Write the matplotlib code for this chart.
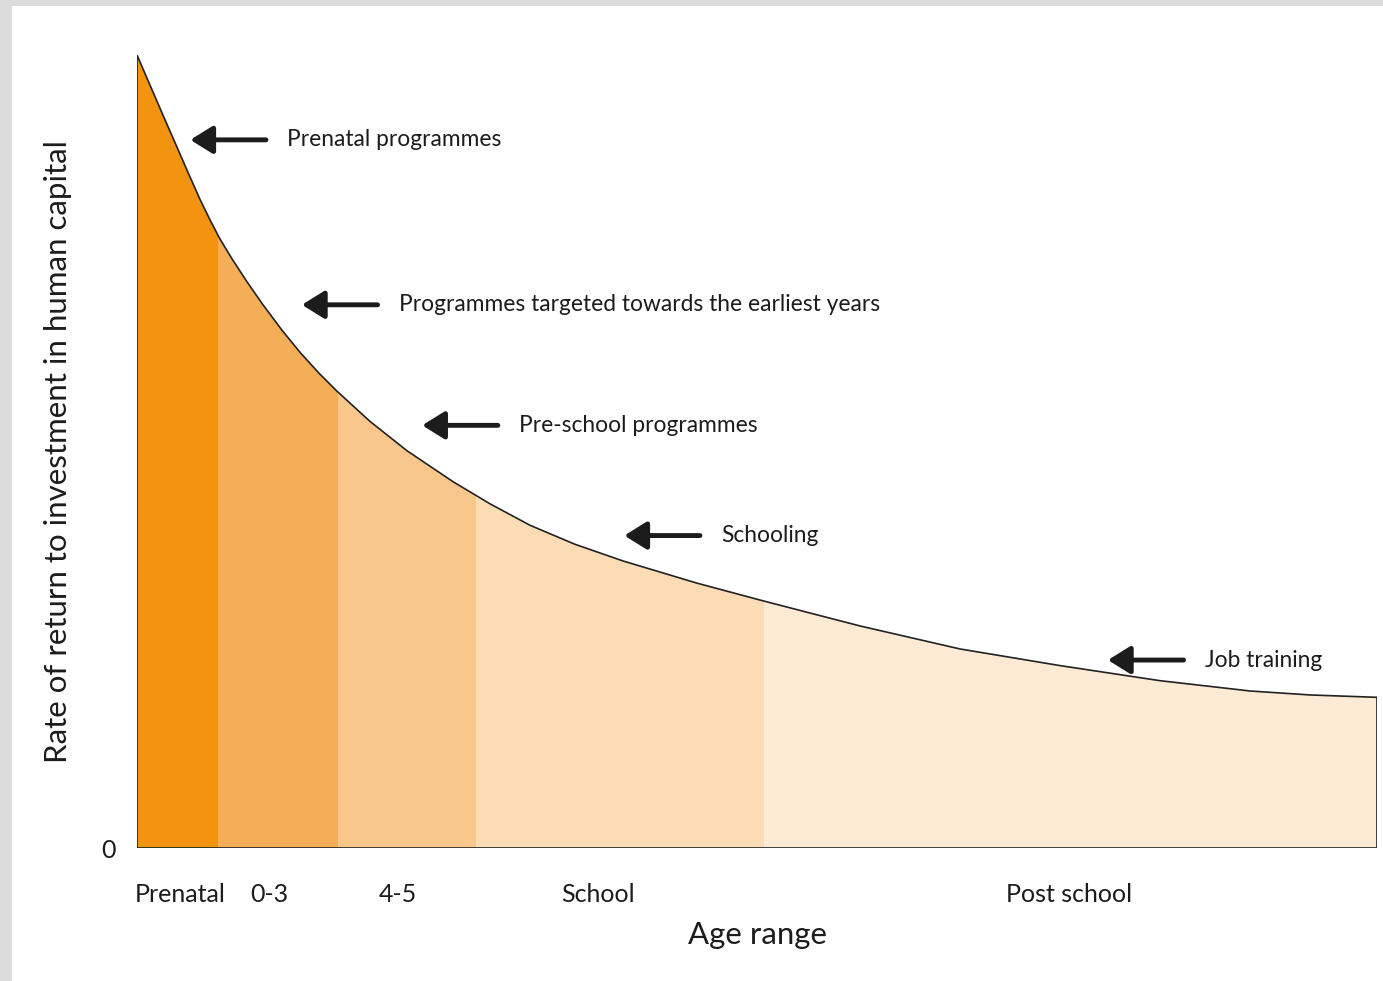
import numpy as np
import matplotlib
matplotlib.use("Agg")
import matplotlib.pyplot as plt
from matplotlib.patches import Polygon, Rectangle

plt.rcParams["font.family"] = ["Lato", "DejaVu Sans"]

# curve (arbitrary units, x 0-100, y 0-100)
age = [0, 1.05, 2.10, 3.15, 4.11, 5.08, 5.89, 6.69, 7.66, 8.87, 10.16, 11.69, 13.15,
       14.6, 16.13, 18.79, 21.77, 25.48, 28.47, 31.69, 35.32, 39.19, 45.16, 50.65,
       58.31, 66.37, 74.44, 82.5, 89.76, 94.6, 100]
rate = [100, 96.2, 92.4, 88.65, 85.2, 81.8, 79.2, 76.8, 74.3, 71.4, 68.5, 65.3, 62.5,
        60.0, 57.6, 53.8, 50.1, 46.2, 43.4, 40.7, 38.3, 36.2, 33.4, 31.1,
        28.0, 25.1, 23.0, 21.1, 19.8, 19.3, 19.0]

band_edges = [0, 6.5, 16.2, 27.3, 50.6, 100]
band_colors = ["#f39411", "#f5ae58", "#f9c78c", "#fcdcb5", "#fdead5"]
band_labels = ["Prenatal", "0-3", "4-5", "School", "Post school"]
band_label_pos = [3.5, 10.7, 21.0, 37.2, 75.2]

programmes = ["Prenatal programmes", "Programmes targeted towards the earliest years",
              "Pre-school programmes", "Schooling", "Job training"]
arrow_tip_x = [4.3, 13.3, 23.0, 39.3, 78.3]
arrow_y = [89.3, 68.5, 53.3, 39.4, 23.7]

W, H = 1383, 981
fig = plt.figure(figsize=(W / 100, H / 100), dpi=100)
fig.patch.set_facecolor("#dcdcdc")
fig.add_artist(Rectangle((12 / W, 0), 1, (H - 6) / H, transform=fig.transFigure,
                         facecolor="white", edgecolor="none", zorder=0))

ax = fig.add_axes([137 / W, (H - 848) / H, 1240 / W, (848 - 55) / H])
ax.set_facecolor("none")
ax.set_xlim(0, 100)
ax.set_ylim(0, 100)

# region under the curve, used as clip for the bands
verts = list(zip(age, rate)) + [(100, 0), (0, 0)]
region = Polygon(verts, closed=True, facecolor="none", edgecolor="#222222", lw=1.2,
                 joinstyle="round", zorder=3)
ax.add_patch(region)
for i, c in enumerate(band_colors):
    span = ax.axvspan(band_edges[i], band_edges[i + 1], ymin=0, ymax=1, color=c, lw=0, zorder=1)
    span.set_clip_path(region)

for txt, tx, ty in zip(programmes, arrow_tip_x, arrow_y):
    ax.annotate("", xy=(tx, ty), xytext=(tx + 6.1, ty),
                arrowprops=dict(arrowstyle="-|>,head_length=0.45,head_width=0.28",
                                mutation_scale=30, lw=3.5, color="#1c1c1c",
                                shrinkA=0, shrinkB=0))
    ax.text(tx + 7.8, ty, txt, fontsize=16.4, color="#1c1c1c", va="center", ha="left")

for s in ax.spines.values():
    s.set_visible(False)

ax.set_xticks(band_label_pos)
ax.set_xticklabels(band_labels, fontsize=18, color="#1c1c1c")
ax.tick_params(axis="x", length=0, pad=25)
ax.set_yticks([0])
ax.set_yticklabels(["0"], fontsize=18, color="#1c1c1c")
ax.tick_params(axis="y", length=0, pad=15)

ax.set_xlabel("Age range", fontsize=22.4, color="#1c1c1c")
ax.xaxis.set_label_coords(0.5, -(935 - 848) / 793)
ax.xaxis.label.set_va("center")
ax.set_ylabel("Rate of return to investment in human capital", fontsize=22.5,
              color="#1c1c1c")
ax.yaxis.set_label_coords(-(137 - 58) / 1240, 0.5)
ax.yaxis.label.set_va("center")

fig.savefig("out.png", dpi=100)
